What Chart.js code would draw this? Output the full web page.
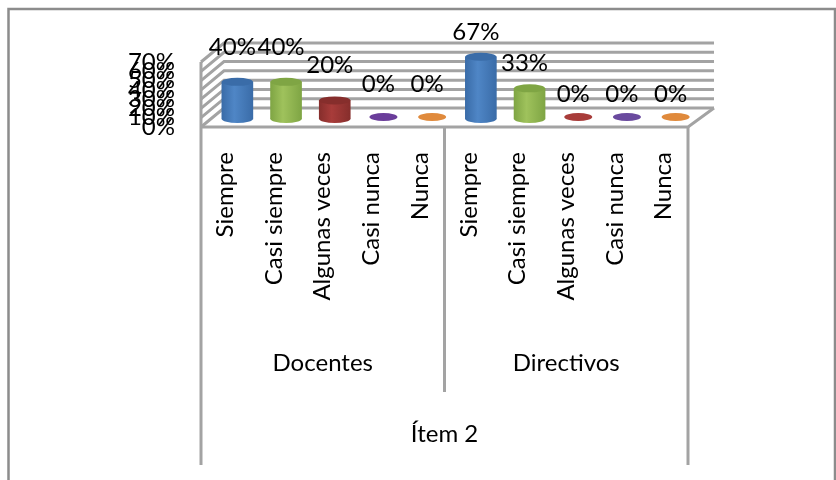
<!DOCTYPE html>
<html>
<head>
<meta charset="utf-8">
<style>
  html, body { margin: 0; padding: 0; background: #fff; }
  #wrap { width: 836px; height: 480px; }
</style>
<script src="https://cdn.jsdelivr.net/npm/chart.js@4"></script>
</head>
<body>
<div id="wrap"><canvas id="chart" width="836" height="480"></canvas></div>
<script>
const categories = ['Siempre', 'Casi siempre', 'Algunas veces', 'Casi nunca', 'Nunca',
  'Siempre', 'Casi siempre', 'Algunas veces', 'Casi nunca', 'Nunca'];
const groups = ['Docentes', 'Directivos'];
const topGroup = ['Ítem 2'];
const values = [40, 40, 20, 0, 0, 67, 33, 0, 0, 0];
const yTicks = [0, 10, 20, 30, 40, 50, 60, 70];

const barLight = ['#4f86c6', '#9fc25c', '#a83c3a', '#6a3d9a', '#e08a3c', '#4f86c6', '#9fc25c', '#a83c3a', '#6a4a9e', '#e08a3c'];
const barDark = ['#3a6ca8', '#7fa544', '#862e2c', '#5a2f88', '#c87a34', '#3a6ca8', '#7fa544', '#862e2c', '#5f4590', '#c87a34'];

const FONT_SIZE = 24;
const GRAY = '#a3a3a3';
// depth of the fake 3d box
const DEPTH_X = 23, DEPTH_Y = 19;
const BAR_DX = 12, BAR_DY = 8, BAR_W = 31;

function line(c, pts, color, w) {
  c.beginPath();
  c.strokeStyle = color;
  c.lineWidth = w;
  pts.forEach((p, i) => i ? c.lineTo(p[0], p[1]) : c.moveTo(p[0], p[1]));
  c.stroke();
}

function capEllipse(c, x, y, rx, color) {
  c.beginPath();
  c.fillStyle = color;
  c.ellipse(x, y, rx, 4, 0, 0, Math.PI * 2);
  c.fill();
}

const boxPlugin = {
  id: 'box',
  beforeDatasetsDraw(chart) {
    const c = chart.ctx;
    const { x, x2, y } = chart.scales;
    const left = x.left, right = x.right, bottom = y.bottom;
    c.save();
    // outer frame
    line(c, [[8.5, 480], [8.5, 9], [835, 9], [835, 480]], '#8c8c8c', 2.5);
    // walls and gridlines
    yTicks.forEach(t => {
      const py = y.getPixelForValue(t);
      line(c, [[left, py], [left + DEPTH_X, py - DEPTH_Y], [right + DEPTH_X + 3, py - DEPTH_Y]], GRAY, 3);
    });
    line(c, [[left, y.top], [left, 465]], GRAY, 3);
    line(c, [[left, bottom], [right, bottom], [right + DEPTH_X + 3, bottom - DEPTH_Y]], GRAY, 3);
    line(c, [[right, bottom], [right, 465]], GRAY, 3);
    const mid = (x2.getPixelForValue(0) + x2.getPixelForValue(1)) / 2;
    line(c, [[mid, bottom], [mid, 392]], GRAY, 3);
    c.restore();
  },
  beforeDatasetDraw(chart, args) {
    const c = chart.ctx;
    c.save();
    c.translate(BAR_DX, -BAR_DY);
    chart.getDatasetMeta(args.index).data.forEach((bar, i) => {
      // cylinder shading, left and right edge darker
      const g = c.createLinearGradient(bar.x - BAR_W / 2, 0, bar.x + BAR_W / 2, 0);
      g.addColorStop(0, barDark[i]);
      g.addColorStop(0.4, barLight[i]);
      g.addColorStop(1, barDark[i]);
      if (values[i]) capEllipse(c, bar.x, bar.base, BAR_W / 2, g);
      else capEllipse(c, bar.x, bar.base - 2, 14, barLight[i]);
      // zero height bars only show the flat ellipse
      bar.options = Object.assign({}, bar.options, { backgroundColor: values[i] ? g : 'transparent' });
    });
  },
  afterDatasetDraw(chart, args) {
    const c = chart.ctx;
    chart.getDatasetMeta(args.index).data.forEach((bar, i) => {
      if (values[i]) capEllipse(c, bar.x, bar.y, BAR_W / 2, barDark[i]);
    });
    c.restore();
    // value labels
    c.save();
    c.font = FONT_SIZE + 'px Lato';
    c.fillStyle = '#000';
    c.textAlign = 'center';
    c.textBaseline = 'middle';
    chart.getDatasetMeta(args.index).data.forEach((bar, i) => {
      const lift = i < 5 ? 35 : 25;
      c.fillText(values[i] + '%', bar.x + BAR_DX - 5, bar.y - BAR_DY - lift);
    });
    c.restore();
  }
};

const tickFont = { family: 'Lato', size: FONT_SIZE };

new Chart(document.getElementById('chart'), {
  type: 'bar',
  data: {
    labels: categories,
    datasets: [{ data: values, backgroundColor: barLight, barThickness: BAR_W, clip: false }]
  },
  plugins: [boxPlugin],
  options: {
    responsive: false,
    animation: false,
    layout: { padding: { top: 62, right: 148, bottom: 15, left: 0 } },
    plugins: { legend: { display: false }, title: { display: false }, tooltip: { enabled: false } },
    scales: {
      y: {
        min: 0,
        max: 70,
        grid: { display: false, drawTicks: false },
        border: { display: false },
        afterFit: s => { s.width = 201; },
        ticks: { autoSkip: false, stepSize: 10, padding: 26, color: '#000', font: tickFont, callback: v => v + '%' }
      },
      x: {
        grid: { display: false },
        border: { display: false },
        afterFit: s => { s.height = 213; },
        ticks: { autoSkip: false, minRotation: 90, maxRotation: 90, padding: 17, color: '#000', font: tickFont }
      },
      x2: {
        type: 'category',
        position: 'bottom',
        labels: groups,
        offset: true,
        grid: { display: false },
        border: { display: false },
        afterFit: s => { s.height = 52; },
        ticks: { padding: 1, color: '#000', font: tickFont }
      },
      x3: {
        type: 'category',
        position: 'bottom',
        labels: topGroup,
        offset: true,
        grid: { display: false },
        border: { display: false },
        afterFit: s => { s.height = 73; },
        ticks: { padding: 20, color: '#000', font: tickFont }
      }
    }
  }
});
</script>
</body>
</html>
